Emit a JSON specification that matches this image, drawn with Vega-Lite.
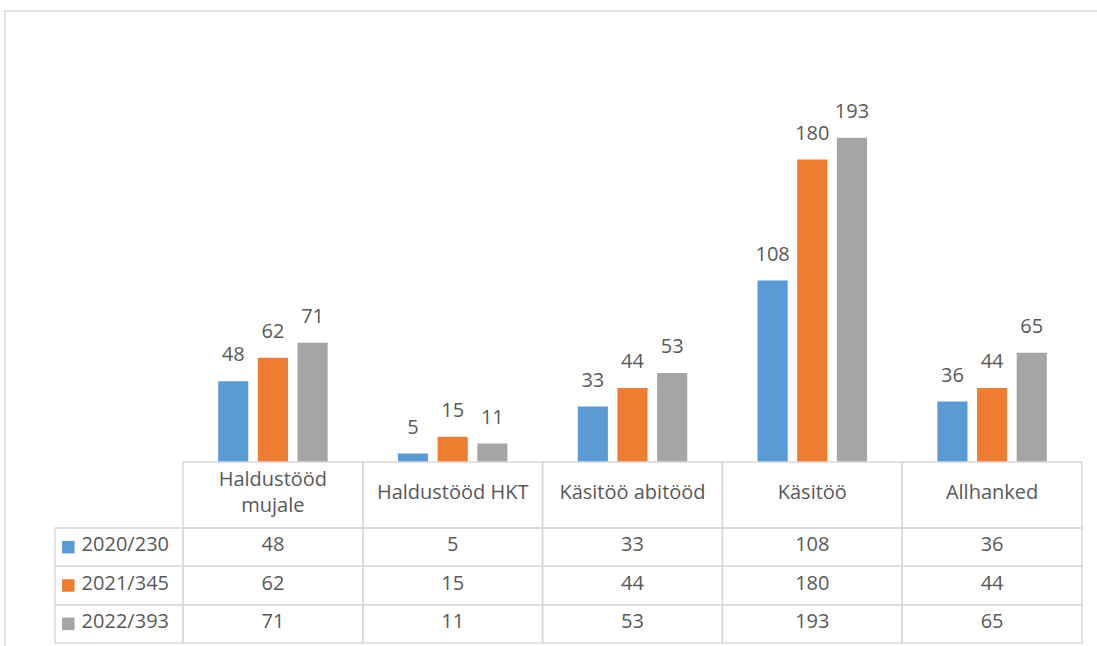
{
  "$schema": "https://vega.github.io/schema/vega-lite/v6.json",
  "width": 1095,
  "height": 638,
  "autosize": "none",
  "padding": {"left": 5, "top": 11, "right": -3, "bottom": -3},
  "background": "white",
  "config": {
    "view": {"stroke": "#d9d9d9", "strokeWidth": 1.5},
    "font": "Open Sans",
    "text": {"font": "Open Sans", "fontSize": 20, "color": "#595959"}
  },
  "datasets": {
    "values": [
      {"category": "Haldustööd mujale", "series": "2020/230", "value": 48},
      {"category": "Haldustööd mujale", "series": "2021/345", "value": 62},
      {"category": "Haldustööd mujale", "series": "2022/393", "value": 71},
      {"category": "Haldustööd HKT", "series": "2020/230", "value": 5},
      {"category": "Haldustööd HKT", "series": "2021/345", "value": 15},
      {"category": "Haldustööd HKT", "series": "2022/393", "value": 11},
      {"category": "Käsitöö abitööd", "series": "2020/230", "value": 33},
      {"category": "Käsitöö abitööd", "series": "2021/345", "value": 44},
      {"category": "Käsitöö abitööd", "series": "2022/393", "value": 53},
      {"category": "Käsitöö", "series": "2020/230", "value": 108},
      {"category": "Käsitöö", "series": "2021/345", "value": 180},
      {"category": "Käsitöö", "series": "2022/393", "value": 193},
      {"category": "Allhanked", "series": "2020/230", "value": 36},
      {"category": "Allhanked", "series": "2021/345", "value": 44},
      {"category": "Allhanked", "series": "2022/393", "value": 65}
    ],
    "categories": [
      {"category": "Haldustööd mujale", "label": ["Haldustööd", "mujale"], "lines": 2},
      {"category": "Haldustööd HKT", "label": "Haldustööd HKT", "lines": 1},
      {"category": "Käsitöö abitööd", "label": "Käsitöö abitööd", "lines": 1},
      {"category": "Käsitöö", "label": "Käsitöö", "lines": 1},
      {"category": "Allhanked", "label": "Allhanked", "lines": 1}
    ],
    "series": [
      {"series": "2020/230"},
      {"series": "2021/345"},
      {"series": "2022/393"}
    ]
  },
  "layer": [
    {
      "data": {"name": "values"},
      "encoding": {
        "x": {"field": "category", "type": "nominal", "sort": null, "axis": null,
          "scale": {"domain": ["Haldustööd mujale", "Haldustööd HKT", "Käsitöö abitööd", "Käsitöö", "Allhanked"], "range": [178, 1077], "paddingInner": 0, "paddingOuter": 0}},
        "xOffset": {"field": "series", "type": "nominal",
          "scale": {"domain": ["2020/230", "2021/345", "2022/393"], "paddingInner": 0.24, "paddingOuter": 0.886}},
        "y": {"field": "value", "type": "quantitative", "axis": null,
          "scale": {"domain": [0, 250], "range": [451, 31], "nice": false, "zero": true}}
      },
      "layer": [
        {"mark": {"type": "bar"},
          "encoding": {"color": {"field": "series", "type": "nominal", "legend": null,
            "scale": {"domain": ["2020/230", "2021/345", "2022/393"], "range": ["#5B9BD5", "#ED7D31", "#A5A5A5"]}}}},
        {"mark": {"type": "text", "baseline": "alphabetic", "dy": -20, "fontSize": 20, "color": "#595959"},
          "encoding": {"text": {"field": "value", "type": "quantitative"}}}
      ]
    },
    {
      "data": {"name": "categories"},
      "encoding": {
        "x": {"field": "category", "type": "nominal", "sort": null, "axis": null,
          "scale": {"domain": ["Haldustööd mujale", "Haldustööd HKT", "Käsitöö abitööd", "Käsitöö", "Allhanked"], "range": [178, 1077], "paddingInner": 0, "paddingOuter": 0}},
        "y": {"datum": "header", "type": "nominal", "axis": null,
          "scale": {"range": [451, 517], "paddingInner": 0, "paddingOuter": 0}}
      },
      "layer": [
        {"mark": {"type": "rect", "fill": "white", "fillOpacity": 0, "stroke": "#d9d9d9", "strokeWidth": 1.5}},
        {"transform": [{"filter": "datum.lines == 1"}],
          "mark": {"type": "text", "fontSize": 20, "color": "#595959", "baseline": "middle", "dy": -2},
          "encoding": {"text": {"field": "label"}}},
        {"transform": [{"filter": "datum.lines == 2"}],
          "mark": {"type": "text", "fontSize": 20, "color": "#595959", "lineHeight": 26, "baseline": "middle", "dy": -15},
          "encoding": {"text": {"field": "label"}}}
      ]
    },
    {
      "data": {"name": "values"},
      "encoding": {
        "x": {"field": "category", "type": "nominal", "sort": null, "axis": null,
          "scale": {"domain": ["Haldustööd mujale", "Haldustööd HKT", "Käsitöö abitööd", "Käsitöö", "Allhanked"], "range": [178, 1077], "paddingInner": 0, "paddingOuter": 0}},
        "y": {"field": "series", "type": "nominal", "axis": null,
          "scale": {"domain": ["2020/230", "2021/345", "2022/393"], "range": [517, 632], "paddingInner": 0, "paddingOuter": 0}}
      },
      "layer": [
        {"mark": {"type": "rect", "fill": "white", "fillOpacity": 0, "stroke": "#d9d9d9", "strokeWidth": 1.5}},
        {"mark": {"type": "text", "fontSize": 20, "color": "#595959", "baseline": "middle", "dy": -2},
          "encoding": {"text": {"field": "value", "type": "quantitative"}}}
      ]
    },
    {
      "data": {"name": "series"},
      "encoding": {
        "y": {"field": "series", "type": "nominal", "axis": null,
          "scale": {"domain": ["2020/230", "2021/345", "2022/393"], "range": [517, 632], "paddingInner": 0, "paddingOuter": 0}}
      },
      "layer": [
        {"mark": {"type": "rect", "fill": "white", "fillOpacity": 0, "stroke": "#d9d9d9", "strokeWidth": 1.5},
          "encoding": {"x": {"datum": "legend", "type": "nominal", "axis": null,
            "scale": {"range": [50, 178], "paddingInner": 0, "paddingOuter": 0}}}},
        {"mark": {"type": "point", "shape": "square", "filled": true, "size": 156, "opacity": 1, "strokeWidth": 0},
          "encoding": {"x": {"datum": "legend", "type": "nominal", "bandPosition": 0.104},
            "color": {"field": "series", "type": "nominal", "legend": null}}},
        {"mark": {"type": "text", "align": "left", "baseline": "middle", "dy": -2, "fontSize": 20, "color": "#595959"},
          "encoding": {"x": {"datum": "legend", "type": "nominal", "bandPosition": 0.208},
            "text": {"field": "series"}}}
      ]
    }
  ],
  "resolve": {"scale": {"x": "independent", "y": "independent"}}
}
